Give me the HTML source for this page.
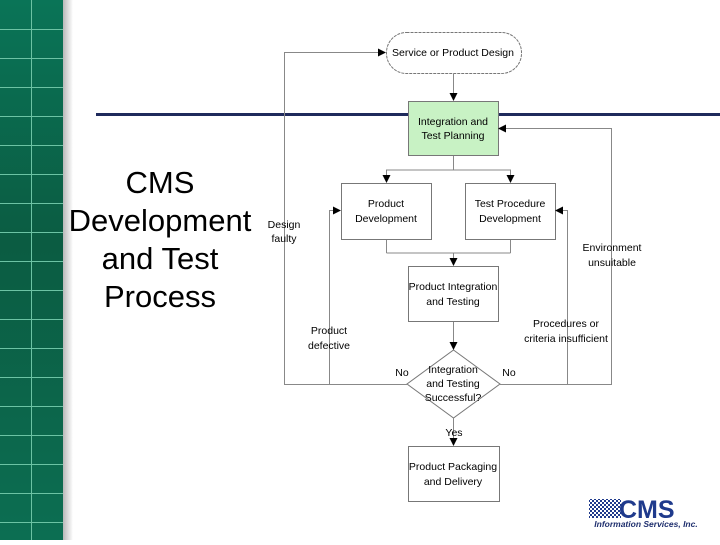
<!DOCTYPE html>
<html><head><style>
body{margin:0;width:720px;height:540px;overflow:hidden;background:#fff;font-family:"Liberation Sans",sans-serif}
</style></head><body>
<svg width="720" height="540" xmlns="http://www.w3.org/2000/svg" font-family="Liberation Sans, sans-serif">
<defs>
<linearGradient id="g" x1="0" y1="0" x2="0" y2="1">
<stop offset="0" stop-color="#0a7457"/><stop offset="0.45" stop-color="#0b5c42"/><stop offset="1" stop-color="#0c6e52"/>
</linearGradient>
<linearGradient id="s" x1="0" y1="0" x2="1" y2="0">
<stop offset="0" stop-color="#b8b8b8"/><stop offset="1" stop-color="#ffffff"/>
</linearGradient>
<pattern id="ck" width="4" height="4" patternUnits="userSpaceOnUse">
<rect width="4" height="4" fill="#fff"/><rect width="2" height="2" fill="#1f3a8c"/><rect x="2" y="2" width="2" height="2" fill="#1f3a8c"/>
</pattern>
<marker id="a" markerWidth="8" markerHeight="8" refX="7" refY="4" orient="auto" markerUnits="userSpaceOnUse">
<path d="M0,0 L8,4 L0,8 z" fill="#000"/></marker>
</defs>
<rect x="0" y="0" width="63" height="540" fill="url(#g)"/>
<rect x="63" y="0" width="10" height="540" fill="url(#s)"/>
<g stroke="#6cc3a4" stroke-width="1">
<line x1="31.5" y1="0" x2="31.5" y2="540"/>
<path d="M0 29.5H63M0 58.5H63M0 87.5H63M0 116.5H63M0 145.5H63M0 174.5H63M0 203.5H63M0 232.5H63M0 261.5H63M0 290.5H63M0 319.5H63M0 348.5H63M0 377.5H63M0 406.5H63M0 435.5H63M0 464.5H63M0 493.5H63M0 522.5H63"/>
</g>
<rect x="96" y="113" width="624" height="3" fill="#1f2a5c"/>
<g font-size="31" text-anchor="middle" fill="#000">
<text x="160" y="193">CMS</text>
<text x="160" y="231">Development</text>
<text x="160" y="269">and Test</text>
<text x="160" y="307">Process</text>
</g>
<g fill="none" stroke="#777" stroke-width="1">
<rect x="386.5" y="32.5" width="135" height="41" rx="20" stroke-dasharray="3,1"/>
<rect x="341.5" y="183.5" width="90" height="56"/>
<rect x="465.5" y="183.5" width="90" height="56"/>
<rect x="408.5" y="266.5" width="90" height="55"/>
<path d="M453.5 350 L500 384 L453.5 418 L407 384 Z"/>
<rect x="408.5" y="446.5" width="91" height="55"/>
</g>
<rect x="408.5" y="101.5" width="90" height="54" fill="#c8f2c4" stroke="#777"/>
<g fill="none" stroke="#888" stroke-width="1">
<line x1="453.5" y1="74" x2="453.5" y2="100" marker-end="url(#a)"/>
<path d="M453.5 156 V170 H386.5 V182" marker-end="url(#a)"/>
<path d="M453.5 170 H510.5 V182" marker-end="url(#a)"/>
<line x1="386.5" y1="240" x2="386.5" y2="253"/>
<line x1="510.5" y1="240" x2="510.5" y2="253"/>
<line x1="386.5" y1="253" x2="510.5" y2="253"/>
<line x1="453.5" y1="253" x2="453.5" y2="265" marker-end="url(#a)"/>
<line x1="453.5" y1="322" x2="453.5" y2="349" marker-end="url(#a)"/>
<line x1="453.5" y1="418" x2="453.5" y2="445" marker-end="url(#a)"/>
<path d="M407 384.5 H284.5 V52.5 H385" marker-end="url(#a)"/>
<path d="M329.5 384.5 V210.5 H340" marker-end="url(#a)"/>
<path d="M500 384.5 H611.5 V128.5 H499" marker-end="url(#a)"/>
<path d="M567.5 384.5 V210.5 H556" marker-end="url(#a)"/>
</g>
<g font-size="10.5" text-anchor="middle" fill="#000">
<text x="453" y="56">Service or Product Design</text>
<text x="453" y="125">Integration and</text><text x="453" y="139">Test Planning</text>
<text x="386" y="207">Product</text><text x="386" y="222">Development</text>
<text x="510" y="207">Test Procedure</text><text x="510" y="222">Development</text>
<text x="453" y="290">Product Integration</text><text x="453" y="305">and Testing</text>
<text x="453" y="373">Integration</text><text x="453" y="387">and Testing</text><text x="453" y="401">Successful?</text>
<text x="454" y="436">Yes</text>
<text x="453" y="470">Product Packaging</text><text x="453" y="485">and Delivery</text>
<text x="284" y="228">Design</text><text x="284" y="242">faulty</text>
<text x="329" y="334">Product</text><text x="329" y="349">defective</text>
<text x="402" y="376">No</text><text x="509" y="376">No</text>
<text x="566" y="327">Procedures or</text><text x="566" y="342">criteria insufficient</text>
<text x="612" y="251">Environment</text><text x="612" y="266">unsuitable</text>
</g>
<g>
<rect x="589" y="499" width="32" height="19" fill="url(#ck)"/>
<text x="619" y="518" font-size="25" font-weight="bold" fill="#1f3a8c">CMS</text>
<text x="646" y="527" font-size="8.5" font-weight="bold" font-style="italic" fill="#1f2f6e" text-anchor="middle">Information Services, Inc.</text>
</g>
</svg>
</body></html>
